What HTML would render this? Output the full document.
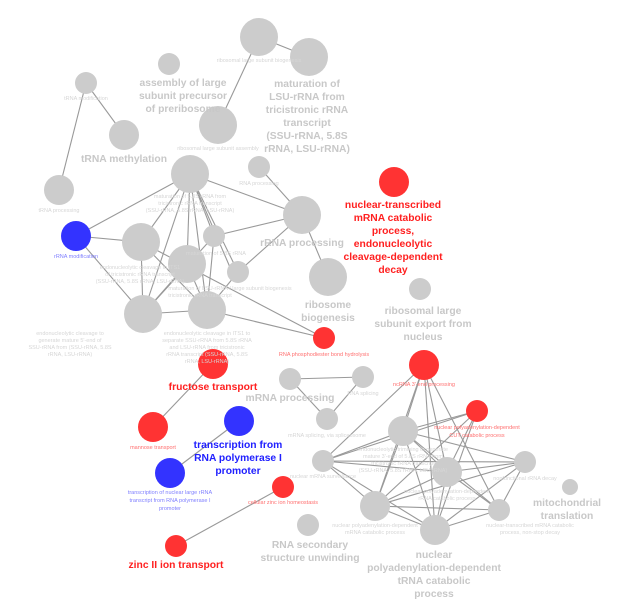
<!DOCTYPE html>
<html><head><meta charset="utf-8"><style>
html,body{margin:0;padding:0;background:#fff}
svg{display:block}
.b{font-family:"Liberation Sans",sans-serif;font-weight:bold;font-size:10.3px;text-anchor:middle}
.g{fill:#c8c8c8}.r{fill:#ff2020}.u{fill:#2020ff}
.s{font-family:"Liberation Sans",sans-serif;font-size:5.5px;text-anchor:middle}
.sg{fill:#d6d6d6}.sr{fill:#ff7070}.su{fill:#8080ff}
line{stroke:#999;stroke-width:1.1}
.ng{fill:#cccccc}.nr{fill:#ff3333}.nu{fill:#3333ff}
</style></head><body>
<svg width="621" height="599" viewBox="0 0 621 599" xmlns="http://www.w3.org/2000/svg">
<g>
<line x1="259" y1="37" x2="309" y2="57"/><line x1="259" y1="37" x2="218" y2="125"/>
<line x1="86" y1="83" x2="124" y2="135"/><line x1="86" y1="83" x2="59" y2="190"/>
<line x1="259" y1="167" x2="302" y2="215"/><line x1="302" y1="215" x2="328" y2="277"/>
<line x1="190" y1="174" x2="302" y2="215"/><line x1="190" y1="174" x2="76" y2="236"/>
<line x1="190" y1="174" x2="141" y2="242"/><line x1="190" y1="174" x2="187" y2="264"/>
<line x1="190" y1="174" x2="238" y2="272"/><line x1="190" y1="174" x2="232" y2="272"/>
<line x1="190" y1="174" x2="143" y2="314"/><line x1="190" y1="174" x2="207" y2="310"/>
<line x1="190" y1="174" x2="214" y2="236"/>
<line x1="76" y1="236" x2="141" y2="242"/><line x1="76" y1="236" x2="143" y2="314"/>
<line x1="214" y1="236" x2="302" y2="215"/><line x1="238" y1="272" x2="302" y2="215"/>
<line x1="141" y1="242" x2="143" y2="314"/><line x1="141" y1="242" x2="207" y2="310"/>
<line x1="141" y1="242" x2="324" y2="338"/><line x1="143" y1="314" x2="207" y2="310"/>
<line x1="143" y1="314" x2="214" y2="236"/><line x1="207" y1="310" x2="214" y2="236"/>
<line x1="207" y1="310" x2="238" y2="272"/><line x1="207" y1="310" x2="324" y2="338"/>
<line x1="187" y1="264" x2="143" y2="314"/><line x1="187" y1="264" x2="207" y2="310"/>
<line x1="213" y1="364" x2="153" y2="427"/><line x1="239" y1="421" x2="170" y2="473"/>
<line x1="283" y1="487" x2="176" y2="546"/>
<line x1="290" y1="379" x2="363" y2="377"/><line x1="290" y1="379" x2="327" y2="419"/><line x1="363" y1="377" x2="327" y2="419"/>
<line x1="424" y1="365" x2="323" y2="461"/><line x1="424" y1="365" x2="375" y2="506"/><line x1="424" y1="365" x2="435" y2="530"/>
<line x1="424" y1="365" x2="447" y2="472"/><line x1="424" y1="365" x2="499" y2="510"/>
<line x1="477" y1="411" x2="323" y2="461"/><line x1="477" y1="411" x2="403" y2="431"/><line x1="477" y1="411" x2="375" y2="506"/>
<line x1="477" y1="411" x2="435" y2="530"/><line x1="477" y1="411" x2="447" y2="472"/>
<line x1="403" y1="431" x2="323" y2="461"/><line x1="403" y1="431" x2="375" y2="506"/><line x1="403" y1="431" x2="435" y2="530"/>
<line x1="403" y1="431" x2="525" y2="462"/><line x1="403" y1="431" x2="499" y2="510"/><line x1="403" y1="431" x2="447" y2="472"/>
<line x1="323" y1="461" x2="375" y2="506"/><line x1="323" y1="461" x2="435" y2="530"/><line x1="323" y1="461" x2="447" y2="472"/>
<line x1="323" y1="461" x2="525" y2="462"/>
<line x1="447" y1="472" x2="375" y2="506"/><line x1="447" y1="472" x2="435" y2="530"/><line x1="447" y1="472" x2="525" y2="462"/>
<line x1="447" y1="472" x2="499" y2="510"/>
<line x1="375" y1="506" x2="435" y2="530"/><line x1="375" y1="506" x2="499" y2="510"/><line x1="375" y1="506" x2="525" y2="462"/>
<line x1="435" y1="530" x2="499" y2="510"/><line x1="435" y1="530" x2="525" y2="462"/><line x1="499" y1="510" x2="525" y2="462"/>
<line x1="424" y1="365" x2="403" y2="431"/>
</g>
<g>
<circle class="ng" cx="259" cy="37" r="19"/><circle class="ng" cx="309" cy="57" r="19"/>
<circle class="ng" cx="169" cy="64" r="11"/><circle class="ng" cx="86" cy="83" r="11"/>
<circle class="ng" cx="124" cy="135" r="15"/><circle class="ng" cx="218" cy="125" r="19"/>
<circle class="ng" cx="59" cy="190" r="15"/><circle class="ng" cx="190" cy="174" r="19"/>
<circle class="ng" cx="259" cy="167" r="11"/><circle class="ng" cx="302" cy="215" r="19"/>
<circle class="nu" cx="76" cy="236" r="15"/><circle class="ng" cx="141" cy="242" r="19"/>
<circle class="ng" cx="214" cy="236" r="11"/><circle class="ng" cx="187" cy="264" r="19"/>
<circle class="ng" cx="238" cy="272" r="11"/><circle class="ng" cx="328" cy="277" r="19"/>
<circle class="ng" cx="143" cy="314" r="19"/><circle class="ng" cx="207" cy="310" r="19"/>
<circle class="nr" cx="324" cy="338" r="11"/><circle class="nr" cx="213" cy="364" r="15"/>
<circle class="nr" cx="153" cy="427" r="15"/><circle class="nu" cx="239" cy="421" r="15"/>
<circle class="nu" cx="170" cy="473" r="15"/><circle class="nr" cx="283" cy="487" r="11"/>
<circle class="nr" cx="176" cy="546" r="11"/><circle class="ng" cx="308" cy="525" r="11"/>
<circle class="ng" cx="290" cy="379" r="11"/><circle class="ng" cx="363" cy="377" r="11"/>
<circle class="ng" cx="327" cy="419" r="11"/><circle class="nr" cx="394" cy="182" r="15"/>
<circle class="ng" cx="420" cy="289" r="11"/><circle class="nr" cx="424" cy="365" r="15"/>
<circle class="nr" cx="477" cy="411" r="11"/><circle class="ng" cx="403" cy="431" r="15"/>
<circle class="ng" cx="323" cy="461" r="11"/><circle class="ng" cx="447" cy="472" r="15"/>
<circle class="ng" cx="525" cy="462" r="11"/><circle class="ng" cx="570" cy="487" r="8"/>
<circle class="ng" cx="375" cy="506" r="15"/><circle class="ng" cx="435" cy="530" r="15"/>
<circle class="ng" cx="499" cy="510" r="11"/>
</g>
<g class="s sg">
<text x="259" y="62">ribosomal large subunit biogenesis</text>
<text x="86" y="100">tRNA modification</text>
<text x="59" y="212">tRNA processing</text>
<text x="218" y="150">ribosomal large subunit assembly</text>
<text x="259" y="185">RNA processing</text>
<text x="190" y="198">maturation of 5.8S rRNA from</text><text x="190" y="205">tricistronic rRNA transcript</text><text x="190" y="212">(SSU-rRNA, 5.8S rRNA, LSU-rRNA)</text>
<text x="216" y="255">maturation of 5.8S rRNA</text>
<text x="140" y="269">endonucleolytic cleavage in ITS1</text><text x="140" y="276">of tricistronic rRNA transcript</text><text x="140" y="283">(SSU-rRNA, 5.8S rRNA, LSU-rRNA)</text>
<text x="230" y="290">maturation of LSU-rRNA / large subunit biogenesis</text><text x="200" y="297">tricistronic rRNA transcript</text>
<text x="70" y="335">endonucleolytic cleavage to</text><text x="70" y="342">generate mature 5'-end of</text><text x="70" y="349">SSU-rRNA from (SSU-rRNA, 5.8S</text><text x="70" y="356">rRNA, LSU-rRNA)</text>
<text x="207" y="335">endonucleolytic cleavage in ITS1 to</text><text x="207" y="342">separate SSU-rRNA from 5.8S rRNA</text><text x="207" y="349">and LSU-rRNA from tricistronic</text><text x="207" y="356">rRNA transcript (SSU-rRNA, 5.8S</text><text x="207" y="363">rRNA, LSU-rRNA)</text>
<text x="363" y="395">RNA splicing</text>
<text x="327" y="437">mRNA splicing, via spliceosome</text>
<text x="323" y="478">nuclear mRNA surveillance</text>
<text x="403" y="451">endonucleolytic trimming to generate</text><text x="403" y="458">mature 3'-end of 5.8S rRNA from</text><text x="403" y="465">tricistronic rRNA transcript</text><text x="403" y="472">(SSU-rRNA, 5.8S rRNA, LSU-rRNA)</text>
<text x="525" y="480">nonfunctional rRNA decay</text>
<text x="447" y="493">nuclear polyadenylation-dependent</text><text x="447" y="500">rRNA catabolic process</text>
<text x="375" y="527">nuclear polyadenylation-dependent</text><text x="375" y="534">mRNA catabolic process</text>
<text x="530" y="527">nuclear-transcribed mRNA catabolic</text><text x="530" y="534">process, non-stop decay</text>
</g>
<g class="s sr">
<text x="324" y="356">RNA phosphodiester bond hydrolysis</text>
<text x="153" y="449">mannose transport</text>
<text x="283" y="504">cellular zinc ion homeostasis</text>
<text x="424" y="386">ncRNA 3'-end processing</text>
<text x="477" y="429">nuclear polyadenylation-dependent</text><text x="477" y="437">CUT catabolic process</text>
</g>
<g class="s su">
<text x="76" y="258">rRNA modification</text>
<text x="170" y="494">transcription of nuclear large rRNA</text><text x="170" y="502">transcript from RNA polymerase I</text><text x="170" y="510">promoter</text>
</g>
<g class="b g">
<text x="183" y="86">assembly of large</text><text x="183" y="99">subunit precursor</text><text x="183" y="112">of preribosome</text>
<text x="307" y="87">maturation of</text><text x="307" y="100">LSU-rRNA from</text><text x="307" y="113">tricistronic rRNA</text><text x="307" y="126">transcript</text><text x="307" y="139">(SSU-rRNA, 5.8S</text><text x="307" y="152">rRNA, LSU-rRNA)</text>
<text x="124" y="162">tRNA methylation</text>
<text x="302" y="246">rRNA processing</text>
<text x="328" y="308">ribosome</text><text x="328" y="321">biogenesis</text>
<text x="423" y="314">ribosomal large</text><text x="423" y="327">subunit export from</text><text x="423" y="340">nucleus</text>
<text x="290" y="401">mRNA processing</text>
<text x="310" y="548">RNA secondary</text><text x="310" y="561">structure unwinding</text>
<text x="434" y="558">nuclear</text><text x="434" y="571">polyadenylation-dependent</text><text x="434" y="584">tRNA catabolic</text><text x="434" y="597">process</text>
<text x="567" y="506">mitochondrial</text><text x="567" y="519">translation</text>
</g>
<g class="b r">
<text x="393" y="208">nuclear-transcribed</text><text x="393" y="221">mRNA catabolic</text><text x="393" y="234">process,</text><text x="393" y="247">endonucleolytic</text><text x="393" y="260">cleavage-dependent</text><text x="393" y="273">decay</text>
<text x="213" y="390">fructose transport</text>
<text x="176" y="568">zinc II ion transport</text>
</g>
<g class="b u">
<text x="238" y="448">transcription from</text><text x="238" y="461">RNA polymerase I</text><text x="238" y="474">promoter</text>
</g>
</svg>
</body></html>
